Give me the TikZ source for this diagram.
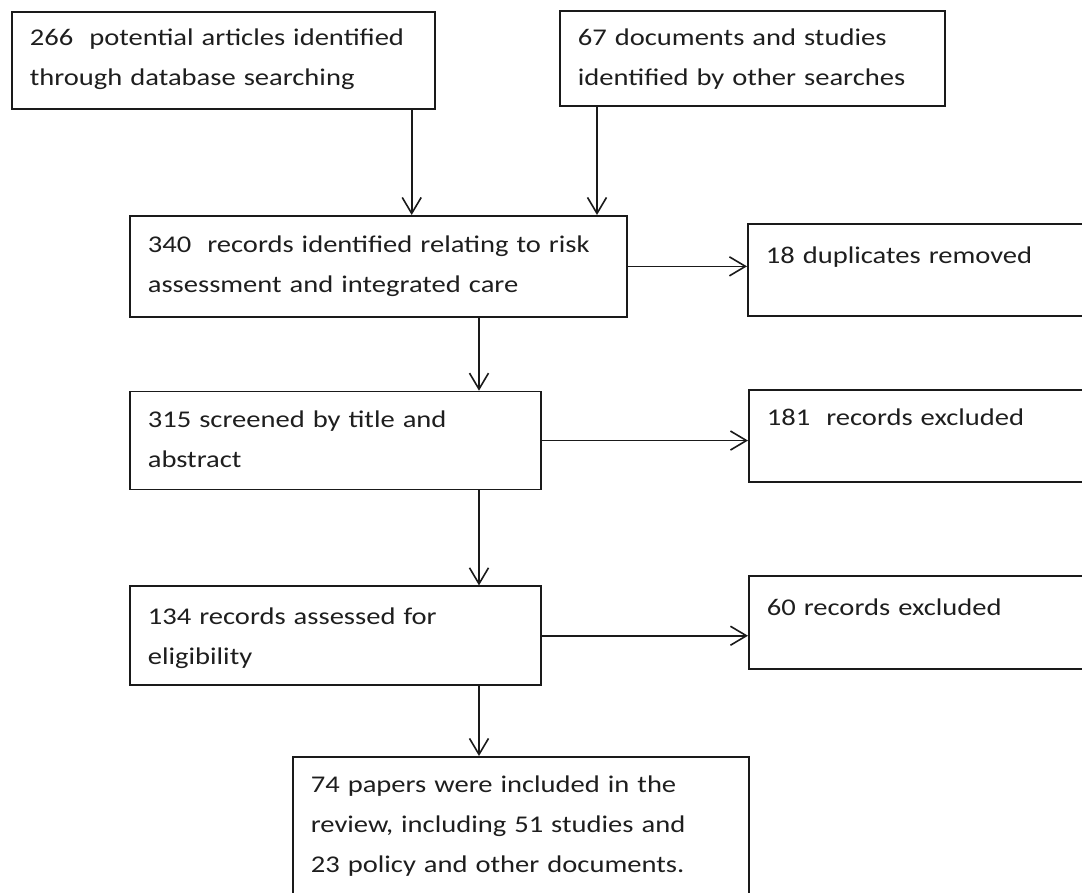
\documentclass[tikz,border=0pt]{standalone}
\usepackage{fontspec}
\setmainfont{Carlito}[FakeStretch=1.19]
\usepackage{tikz}
\usetikzlibrary{arrows.meta, positioning}
\definecolor{boxLine}{HTML}{1A1A1A}
\definecolor{boxText}{HTML}{1E1E1E}

\begin{document}
\begin{tikzpicture}[
  x=1pt, y=1pt,
  box/.style={draw=boxLine, line width=1.7pt, rectangle, align=left, anchor=north west,
    inner xsep=18pt, inner ysep=0pt, text=boxText, font=\fontsize{24}{40}\selectfont},
  arr/.style={draw=boxLine, line width=1.6pt, -{Straight Barb[length=16pt, width=19pt]}},
]
  \useasboundingbox (0,0) rectangle (1082,-893);
  \clip (0,0) rectangle (1082,-893);
  \coordinate (spine) at (479,0);

  \node[box, text width=387pt, text height=34pt, text depth=63pt] (dbase) at (11,-11)
    {266~~potential articles identified\\through database searching};
  \node[box, text width=349pt, text height=35pt, text depth=60pt] (others) at (559,-10)
    {67 documents and studies\\identified by other searches};
  \node[box, text width=461pt, text height=37pt, text depth=64pt] (rec) at (129,-215)
    {340~~records identified relating to risk\\assessment and integrated care};
  \node[box, text width=364pt, text height=40pt, text depth=52pt] (dup) at (747,-223)
    {18 duplicates removed};
  \node[box, below=73pt of rec.south west, anchor=north west, text width=375pt, text height=36pt, text depth=62pt] (scr)
    {315 screened by title and\\abstract};
  \node[box, text width=364pt, text height=36pt, text depth=56pt] (exc1) at (748,-389)
    {181~~records excluded};
  \node[box, below=95pt of scr.south west, anchor=north west, text width=375pt, text height=38pt, text depth=61pt] (elig)
    {134 records assessed for\\eligibility};
  \node[box, text width=364pt, text height=40pt, text depth=53pt] (exc2) at (748,-575)
    {60 records excluded};
  \node[box, text width=420pt, text height=36pt, text depth=150pt] (incl) at (292,-756)
    {74 papers were included in the\\review, including 51 studies and\\23 policy and other documents.};

  \coordinate (dbout) at ([xshift=-24pt]dbase.south east);
  \coordinate (otout) at ([xshift=38pt]others.south west);

  \draw[arr] (dbout) -- (dbout |- rec.north);
  \draw[arr] (otout) -- (otout |- rec.north);
  \draw[arr] (rec.east) -- (rec.east -| dup.west);
  \draw[arr] (rec.south -| spine) -- (scr.north -| spine);
  \draw[arr] (scr.east) -- (scr.east -| exc1.west);
  \draw[arr] (scr.south -| spine) -- (elig.north -| spine);
  \draw[arr] (elig.east) -- (elig.east -| exc2.west);
  \draw[arr] (elig.south -| spine) -- (incl.north -| spine);
\end{tikzpicture}
\end{document}
